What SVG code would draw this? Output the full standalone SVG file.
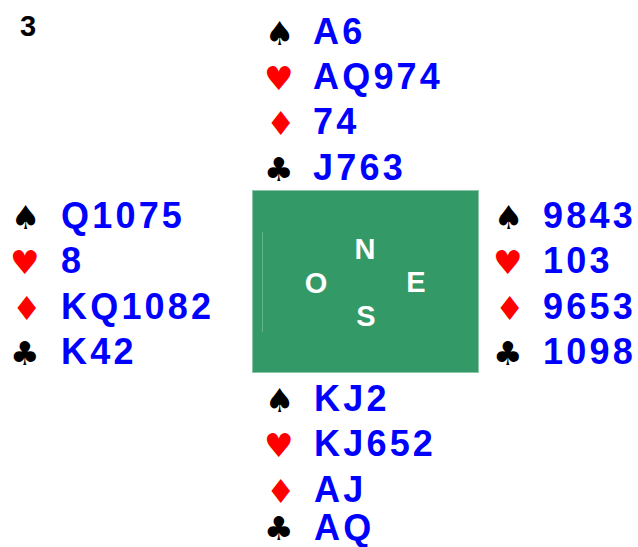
<svg xmlns="http://www.w3.org/2000/svg" width="638" height="547" viewBox="0 0 638 547">
<style>
.c{font-family:"Liberation Sans",Arial,sans-serif;font-weight:bold;font-size:36px;fill:#0000ff;letter-spacing:3.2px}
.s{font-family:"DejaVu Sans",sans-serif;font-size:33px}
.k{fill:#000}
.r{fill:#ff0000}
.d{font-family:"Liberation Sans",Arial,sans-serif;font-weight:bold;font-size:29px;fill:#fff;text-anchor:middle}
.n{font-family:"Liberation Sans",Arial,sans-serif;font-weight:bold;font-size:29px;fill:#000}
</style>
<rect width="638" height="547" fill="#fff"/>
<text class="n" x="20" y="36">3</text>
<g id="table">
<rect x="252.5" y="190.5" width="226" height="182" fill="#339966" stroke="#8cc5a8" stroke-width="1"/>
<line x1="262.5" y1="232" x2="262.5" y2="332" stroke="#66b28c" stroke-width="1"/>
<text class="d" x="365" y="259">N</text>
<text class="d" x="316" y="293">O</text>
<text class="d" x="416" y="292">E</text>
<text class="d" x="366" y="326">S</text>
</g>
<g id="north">
<text class="s k" x="265" y="45">♠</text><text class="c" x="313" y="43.5">A6</text>
<text class="s r" x="264" y="90">♥</text><text class="c" x="313" y="89">AQ974</text>
<text class="s r" x="266" y="135">♦</text><text class="c" x="313" y="134">74</text>
<text class="s k" x="264" y="181">♣</text><text class="c" x="313" y="179.5">J763</text>
</g>
<g id="west">
<text class="s k" x="11" y="229">♠</text><text class="c" x="61" y="228">Q1075</text>
<text class="s r" x="10" y="274">♥</text><text class="c" x="61" y="273">8</text>
<text class="s r" x="12" y="319.5">♦</text><text class="c" x="61" y="318.5">KQ1082</text>
<text class="s k" x="10" y="365">♣</text><text class="c" x="61" y="364">K42</text>
</g>
<g id="east">
<text class="s k" x="494" y="229">♠</text><text class="c" x="543" y="228">9843</text>
<text class="s r" x="493" y="274">♥</text><text class="c" x="543" y="273">103</text>
<text class="s r" x="495" y="319.5">♦</text><text class="c" x="543" y="318.5">9653</text>
<text class="s k" x="493" y="365">♣</text><text class="c" x="543" y="364">1098</text>
</g>
<g id="south">
<text class="s k" x="265" y="412">♠</text><text class="c" x="314" y="411">KJ2</text>
<text class="s r" x="264" y="457.3">♥</text><text class="c" x="314" y="456.3">KJ652</text>
<text class="s r" x="266" y="502.6">♦</text><text class="c" x="314" y="501.6">AJ</text>
<text class="s k" x="264" y="540">♣</text><text class="c" x="314" y="540">AQ</text>
</g>
<g id="connectors"></g>
</svg>
